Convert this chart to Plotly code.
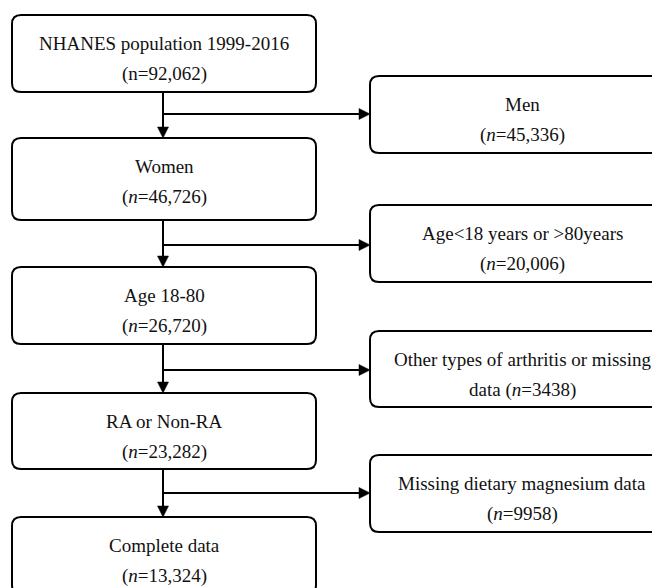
import plotly.graph_objects as go

# ---- data ----
main_titles = ["NHANES population 1999-2016", "Women", "Age 18-80", "RA or Non-RA", "Complete data"]
main_counts = ["92,062", "46,726", "26,720", "23,282", "13,324"]
main_italic_n = [False, True, True, True, True]

excl_titles = ["Men", "Age<18 years or >80years", "Other types of arthritis or missing", "Missing dietary magnesium data"]
excl_counts = ["45,336", "20,006", "3438", "9958"]
excl_prefix = ["", "", "data ", ""]  # text placed before the count on line two

# ---- layout geometry (pixels) ----
W, H = 660, 588
PAD = 8  # page body margin of the browser
left_x0, left_x1 = 12, 316
right_x0, right_x1 = 370, 676
main_tops = [15, 138, 267, 393, 517]
main_bots = [92, 220, 344, 469, 594]
excl_tops = [76, 205, 331, 455]
excl_bots = [153, 282, 407, 532]
branch_y = [114, 245, 370, 493]
trunk_x = 163
R = 9
LW = 2
FONT = dict(family="Liberation Serif, Times New Roman, serif", size=19, color="#111111")


def rounded(x0, y0, x1, y1, r=R):
    return (f"M {x0+r},{y0} L {x1-r},{y0} Q {x1},{y0} {x1},{y0+r} "
            f"L {x1},{y1-r} Q {x1},{y1} {x1-r},{y1} L {x0+r},{y1} "
            f"Q {x0},{y1} {x0},{y1-r} L {x0},{y0+r} Q {x0},{y0} {x0+r},{y0} Z")


shapes = []
annotations = []


def add_box(x0, y0, x1, y1, line1, line2, text_cx):
    shapes.append(dict(type="path", path=rounded(x0, y0, x1, y1), xref="x", yref="y",
                       line=dict(color="black", width=LW), fillcolor="white", layer="below"))
    annotations.append(dict(x=text_cx, y=y0 + 28, text=line1, showarrow=False, xref="x", yref="y",
                            xanchor="center", yanchor="middle", font=FONT))
    annotations.append(dict(x=text_cx, y=y0 + 59, text=line2, showarrow=False, xref="x", yref="y",
                            xanchor="center", yanchor="middle", font=FONT))


for i, (t, c) in enumerate(zip(main_titles, main_counts)):
    n = "<i>n</i>" if main_italic_n[i] else "n"
    add_box(left_x0, main_tops[i], left_x1, main_bots[i], t, f"({n}={c})", (left_x0 + left_x1) / 2)

for i, (t, c) in enumerate(zip(excl_titles, excl_counts)):
    add_box(right_x0, excl_tops[i], right_x1, excl_bots[i], t,
            f"{excl_prefix[i]}(<i>n</i>={c})", 522)

AH = 11  # arrowhead length
AW = 5.5  # half width
for i in range(4):
    y_from = main_bots[i]
    y_to = main_tops[i + 1]
    shapes.append(dict(type="line", x0=trunk_x, y0=y_from, x1=trunk_x, y1=y_to - AH + 1,
                       line=dict(color="black", width=LW)))
    shapes.append(dict(type="path",
                       path=f"M {trunk_x-AW},{y_to-AH} L {trunk_x+AW},{y_to-AH} L {trunk_x},{y_to} Z",
                       fillcolor="black", line=dict(color="black", width=0.5)))
    by = branch_y[i]
    shapes.append(dict(type="line", x0=trunk_x, y0=by, x1=right_x0 - AH + 1, y1=by,
                       line=dict(color="black", width=LW)))
    shapes.append(dict(type="path",
                       path=f"M {right_x0-AH},{by-AW} L {right_x0-AH},{by+AW} L {right_x0},{by} Z",
                       fillcolor="black", line=dict(color="black", width=0.5)))

fig = go.Figure()
fig.add_trace(go.Scatter(x=[PAD, W], y=[PAD, H], mode="markers", marker=dict(opacity=0),
                         hoverinfo="skip", showlegend=False))
fig.update_layout(
    width=W - PAD, height=H - PAD,
    margin=dict(l=0, r=0, t=0, b=0),
    paper_bgcolor="white", plot_bgcolor="white",
    xaxis=dict(range=[PAD, W], visible=False, fixedrange=True),
    yaxis=dict(range=[H, PAD], visible=False, fixedrange=True),
    shapes=shapes, annotations=annotations,
    showlegend=False,
)
fig.write_html("out.html")
